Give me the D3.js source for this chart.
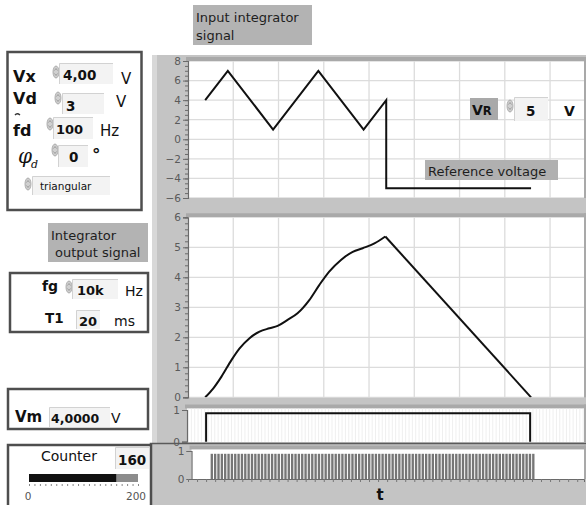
<!DOCTYPE html>
<html><head><meta charset="utf-8">
<script src="https://cdn.jsdelivr.net/npm/d3@7"></script>
<style>
html,body{margin:0;padding:0;background:#fff;}
svg{display:block;font-family:"DejaVu Sans",Verdana,sans-serif;}
</style></head><body>
<svg id="panel" width="586" height="505"></svg>
<script>
// ---- dual-slope integrator timeline, time in ms ----
const inputTimes = [1.9, 4.4, 9.4, 14.4, 19.4, 21.9, 21.9, 37.9];
const inputVolts = [4, 7, 1, 7, 1, 4, -5, -5];

const outputTimes = [1.9, 2.8, 3.7, 4.8, 5.7, 6.8, 7.9, 9.0, 9.9, 11.0, 12.1, 13.4, 14.5, 15.6, 16.9, 18.2, 19.3, 20.6, 21.8, 37.9];
const outputVolts = [0, 0.30, 0.69, 1.24, 1.63, 1.97, 2.19, 2.30, 2.38, 2.58, 2.80, 3.24, 3.74, 4.19, 4.58, 4.85, 4.97, 5.13, 5.36, 0];

const comparatorTimes = [2.0, 2.0, 37.8, 37.8];
const comparatorLevels = [0, 0.9, 0.9, 0];

const counterWindow = [2.5, 38.2];   // gate open / close, ms
const clockPeriod = 0.37;            // displayed clock pulse spacing, ms
const pulseLevel = 0.9;

const timeDomain = [0, 43.75];
const inputTicks = [8, 6, 4, 2, 0, -2, -4, -6];
const outputTicks = [0, 1, 2, 3, 4, 5, 6];
const logicTicks = [0, 1];

const counterValue = 160;
const counterRange = [0, 200];

const svg = d3.select("#panel");
const x = d3.scaleLinear().domain(timeDomain).range([188, 584]);

// ---------- panel frame behind the graphs ----------
svg.append("rect").attr("x", 152).attr("y", 55).attr("width", 434).attr("height", 388).attr("fill", "#c4c4c4");
svg.append("rect").attr("x", 152).attr("y", 55).attr("width", 5).attr("height", 388).attr("fill", "#d8d8d8");
svg.append("rect").attr("x", 150).attr("y", 443).attr("width", 436).attr("height", 62).attr("fill", "#c4c4c4");
svg.append("path").attr("d", "M150.5,505V443.5H586").attr("fill", "none").attr("stroke", "#5a5a5a").attr("stroke-width", 1.5);

function chart(cfg) {
  const g = svg.append("g");
  const left = cfg.left, right = 584;
  const y = d3.scaleLinear().domain(cfg.yDomain).range(cfg.yRange);
  // band above the plot and separator
  g.append("rect").attr("x", left - 2).attr("y", cfg.top - 4).attr("width", right - left + 4).attr("height", 4).attr("fill", "#a9a9a9");
  g.append("rect").attr("x", right).attr("y", cfg.top - 4).attr("width", 2).attr("height", cfg.bottom - cfg.top + 4).attr("fill", "#a9a9a9");
  g.append("rect").attr("x", left).attr("y", cfg.top).attr("width", right - left).attr("height", cfg.bottom - cfg.top).attr("fill", "#fff");
  const clip = "clip" + cfg.id;
  g.append("clipPath").attr("id", clip).append("rect")
    .attr("x", left).attr("y", cfg.top).attr("width", right - left).attr("height", cfg.bottom - cfg.top);
  const plot = g.append("g").attr("clip-path", `url(#${clip})`);
  if (cfg.fineGrid) {
    plot.selectAll(".fg").data(d3.range(timeDomain[0], timeDomain[1], clockPeriod)).join("line")
      .attr("x1", d => x(d)).attr("x2", d => x(d)).attr("y1", cfg.top).attr("y2", cfg.bottom)
      .attr("stroke", "#efefef").attr("stroke-width", 1);
  }
  if (cfg.vGrid) {
    plot.selectAll(".vg").data(d3.range(5, timeDomain[1], 5)).join("line")
      .attr("x1", d => x(d)).attr("x2", d => x(d)).attr("y1", cfg.top).attr("y2", cfg.bottom)
      .attr("stroke", "#dcdcdc").attr("stroke-width", 1.3);
  }
  if (cfg.hGrid) {
    plot.selectAll(".hg").data(cfg.ticks).join("line")
      .attr("x1", left).attr("x2", right).attr("y1", d => y(d)).attr("y2", d => y(d))
      .attr("stroke", "#dcdcdc").attr("stroke-width", 1.3);
  }
  // axes
  g.append("g").attr("transform", `translate(${left},0)`)
    .call(d3.axisLeft(y).tickValues(cfg.ticks).tickSize(5).tickPadding(2).tickFormat(d3.format("d")));
  if (cfg.minorStep) {
    const minors = d3.range(cfg.yDomain[0], cfg.yDomain[1] + 1e-9, cfg.minorStep);
    g.append("g").attr("transform", `translate(${left},0)`)
      .call(d3.axisLeft(y).tickValues(minors).tickSize(3).tickFormat(""))
      .select(".domain").remove();
  }
  g.selectAll(".domain").attr("stroke", "#6a6a6a").attr("stroke-width", 1.2);
  g.selectAll(".tick line").attr("stroke", "#6a6a6a");
  g.selectAll(".tick text").attr("fill", "#5a5a5a").attr("font-size", 10.5).attr("font-family", "DejaVu Sans, sans-serif");
  return { g: plot, y };
}

// ---------- input of the integrator ----------
const c1 = chart({ id: 1, left: 188, top: 61, bottom: 198, yDomain: [-6, 8], yRange: [198, 61], ticks: inputTicks, minorStep: 0.5, hGrid: true, vGrid: true });
c1.g.append("path")
  .datum(d3.zip(inputTimes, inputVolts))
  .attr("d", d3.line().x(d => x(d[0])).y(d => c1.y(d[1])))
  .attr("fill", "none").attr("stroke", "#111").attr("stroke-width", 2).attr("stroke-linejoin", "miter");

// ---------- integrator output ----------
const c2 = chart({ id: 2, left: 188, top: 217.3, bottom: 397.3, yDomain: [0, 6], yRange: [397.3, 217.3], ticks: outputTicks, minorStep: 0.2, hGrid: true, vGrid: true });
const outPts = d3.zip(outputTimes, outputVolts);
const peak = d3.maxIndex(outputVolts);
c2.g.append("path")
  .datum(outPts.slice(0, peak + 1))
  .attr("d", d3.line().x(d => x(d[0])).y(d => c2.y(d[1])).curve(d3.curveMonotoneX))
  .attr("fill", "none").attr("stroke", "#111").attr("stroke-width", 2);
c2.g.append("path")
  .datum(outPts.slice(peak))
  .attr("d", d3.line().x(d => x(d[0])).y(d => c2.y(d[1])))
  .attr("fill", "none").attr("stroke", "#111").attr("stroke-width", 2);

// ---------- comparator ----------
const c3 = chart({ id: 3, left: 187, top: 408.5, bottom: 442, yDomain: [0, 1], yRange: [441.7, 410], ticks: logicTicks, fineGrid: true });
c3.g.append("path")
  .datum(d3.zip(comparatorTimes, comparatorLevels))
  .attr("d", d3.line().x(d => x(d[0])).y(d => c3.y(d[1])))
  .attr("fill", "none").attr("stroke", "#111").attr("stroke-width", 2);

// ---------- counter clock ----------
const c4 = chart({ id: 4, left: 191.5, top: 449.5, bottom: 479, yDomain: [0, 1], yRange: [479, 451], ticks: logicTicks });
const pulses = d3.range(counterWindow[0], counterWindow[1], clockPeriod);
c4.g.selectAll(".p").data(pulses).join("rect")
  .attr("x", d => x(d)).attr("width", x(clockPeriod) - x(0) - 1)
  .attr("y", c4.y(pulseLevel)).attr("height", c4.y(0) - c4.y(pulseLevel))
  .attr("fill", "#767676");
svg.append("g").attr("transform", "translate(0,479)")
  .call(d3.axisBottom(x).tickValues(d3.range(0, timeDomain[1], 1)).tickSize(3).tickFormat(""))
  .call(a => a.select(".domain").attr("stroke", "#6a6a6a"))
  .call(a => a.selectAll(".tick line").attr("stroke", "#777"));
svg.append("text").attr("x", 380).attr("y", 500).attr("text-anchor", "middle")
  .attr("font-weight", "bold").attr("font-size", 15).attr("fill", "#111").text("t");

// ---------- labels on the graphs ----------
function tag(xp, yp, w, h, lines, size, fill) {
  svg.append("rect").attr("x", xp).attr("y", yp).attr("width", w).attr("height", h).attr("fill", fill || "#b3b3b3");
  lines.forEach(l => svg.append("text").attr("x", l[0]).attr("y", l[1]).attr("font-size", size).attr("fill", "#1e1e1e").text(l[2]));
}
tag(193, 5, 119, 40, [[196, 22, "Input integrator"], [196, 40, "signal"]], 13);
tag(425, 160, 133, 20, [[428, 176, "Reference voltage"]], 13, "#b0b0b0");
tag(48, 223, 100, 39, [[51, 240, "Integrator"], [55, 257, "output signal"]], 13);

// ---------- front-panel controls ----------
function frame(xp, yp, w, h) {
  svg.append("rect").attr("x", xp).attr("y", yp).attr("width", w).attr("height", h)
    .attr("fill", "#fff").attr("stroke", "#4e4e4e").attr("stroke-width", 2.5);
}
function spinner(cx, cy) {
  svg.append("ellipse").attr("cx", cx).attr("cy", cy).attr("rx", 3).attr("ry", 6)
    .attr("fill", "#d0d0d0").attr("stroke", "#a0a0a0").attr("stroke-width", 0.8);
  svg.append("path").attr("d", `M${cx - 1.5},${cy - 1.5}l1.5,-2l1.5,2M${cx - 1.5},${cy + 1.5}l1.5,2l1.5,-2`)
    .attr("fill", "none").attr("stroke", "#888").attr("stroke-width", 0.7);
}
function numBox(xp, yp, w, h) {
  svg.append("rect").attr("x", xp).attr("y", yp).attr("width", w).attr("height", h).attr("fill", "#f3f3f3");
  svg.append("path").attr("d", `M${xp + 0.5},${yp + h}V${yp + 0.5}H${xp + w}`).attr("fill", "none").attr("stroke", "#d2d2d2");
}
function txt(xp, yp, s, size, weight, anchor, fill) {
  return svg.append("text").attr("x", xp).attr("y", yp).attr("font-size", size)
    .attr("font-weight", weight || "normal").attr("text-anchor", anchor || "start")
    .attr("fill", fill || "#111").text(s);
}

// input signal parameters
frame(7.5, 52, 134, 158);
txt(13, 82, "Vx", 16, "bold");
spinner(56, 72); numBox(59, 63, 54, 21); txt(63, 80, "4,00", 13.5, "bold"); txt(121, 84, "V", 15);
txt(13, 104, "Vd", 16, "bold");
svg.append("path").attr("d", "M15,115q2,-2.5 5,0").attr("fill", "none").attr("stroke", "#333").attr("stroke-width", 1.4);
spinner(58, 98); numBox(62, 93, 42, 21); txt(66, 111, "3", 13.5, "bold"); txt(116, 107, "V", 15);
txt(13, 136, "fd", 16, "bold");
spinner(50, 124); numBox(53, 117, 40, 22); txt(56, 134, "100", 13, "bold"); txt(100, 136, "Hz", 15);
const phi = txt(18, 163, "φ", 20, "normal");
phi.attr("font-family", "DejaVu Serif, serif").attr("font-style", "italic");
txt(31, 168, "d", 11, "normal").attr("font-family", "DejaVu Serif, serif").attr("font-style", "italic");
spinner(55, 150); numBox(58, 145, 30, 22); txt(69, 162, "0", 13.5, "bold"); txt(92, 161, "°", 17, "bold");
spinner(28, 184); numBox(32, 176, 78, 19); txt(40, 190, "triangular", 10.5);

// clock and integration time
frame(10, 273, 138, 59);
txt(42, 291, "fg", 14, "bold");
spinner(69, 287); numBox(72, 279, 46, 20); txt(77, 295, "10k", 13, "bold"); txt(125, 296, "Hz", 14);
txt(45, 323, "T1", 13.5, "bold");
numBox(76, 310, 24, 19); txt(79, 326, "20", 13, "bold"); txt(114, 326, "ms", 14);

// measured voltage
frame(8, 389, 140, 40);
txt(15, 422, "Vm", 15, "bold");
numBox(49, 407, 61, 20); txt(51, 423, "4,0000", 12.5, "bold"); txt(111, 423, "V", 14);

// counter indicator
frame(8, 445, 143, 62);
txt(41, 461, "Counter", 14);
numBox(115, 447, 34, 22); txt(118, 465, "160", 13.5, "bold");
const cScale = d3.scaleLinear().domain(counterRange).range([29, 138]);
svg.append("rect").attr("x", cScale(0)).attr("y", 474).attr("width", cScale(200) - cScale(0)).attr("height", 8).attr("fill", "#8c8c8c");
svg.append("rect").attr("x", cScale(0)).attr("y", 474).attr("width", cScale(counterValue) - cScale(0)).attr("height", 8).attr("fill", "#111");
svg.append("g").attr("transform", "translate(0,484)")
  .call(d3.axisBottom(cScale).tickValues(d3.range(0, 201, 10)).tickSize(2).tickFormat(""))
  .call(a => a.select(".domain").remove())
  .call(a => a.selectAll(".tick line").attr("stroke", "#888"));
txt(28, 500, "0", 10.5, "normal", "middle", "#555");
txt(146, 500, "200", 10.5, "normal", "end", "#555");

// reference voltage control
svg.append("rect").attr("x", 470).attr("y", 98).attr("width", 28).attr("height", 22).attr("fill", "#a9a9a9");
const vr = txt(472, 115, "V", 14, "bold");
vr.append("tspan").attr("font-size", 11.5).text("R");
spinner(510, 106); numBox(514, 97, 34, 24); txt(526, 116, "5", 13.5, "bold");
txt(564, 116, "V", 14, "bold");
</script>
</body></html>
